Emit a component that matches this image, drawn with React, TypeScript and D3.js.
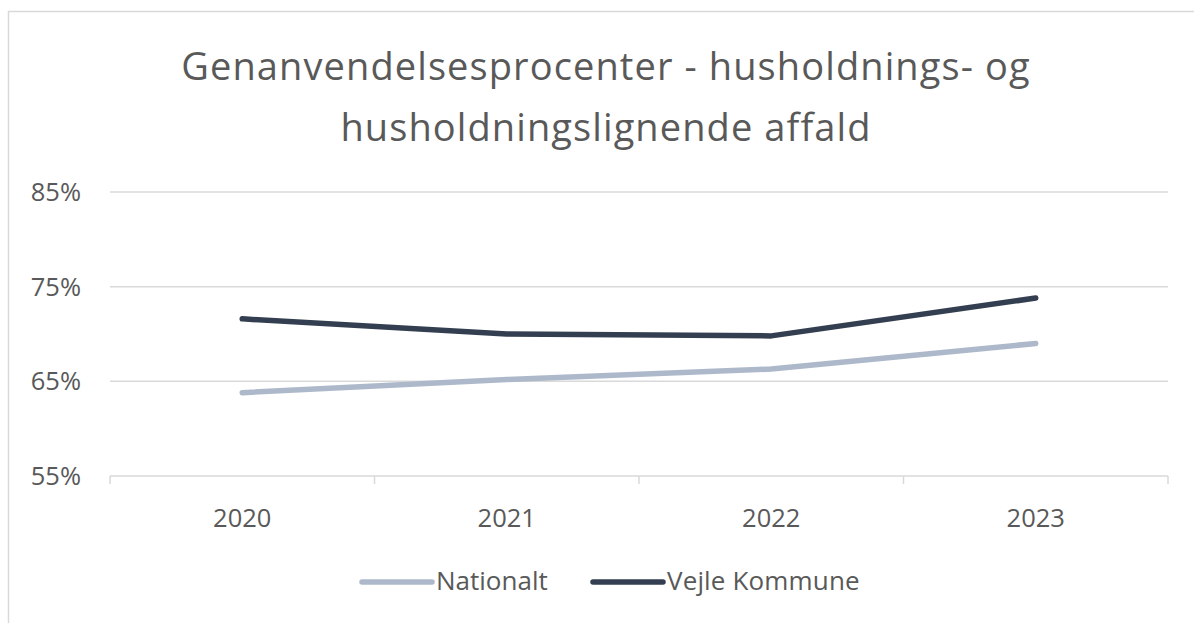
import React from 'react';
import * as d3 from 'd3';

// data
const years = ['2020', '2021', '2022', '2023'];
const nationalt = [63.8, 65.2, 66.3, 69.0];
const vejle = [71.6, 70.0, 69.8, 73.8];
const yTicks = [55, 65, 75, 85];
const seriesNames = ['Nationalt', 'Vejle Kommune'];
const seriesColors = ['#ADB9CA', '#333F50'];

const WIDTH = 1194;
const HEIGHT = 623;
const FONT = '"Open Sans", sans-serif';
const TEXT = '#595959';
const GRID = '#D9D9D9';

export default function App() {
  const x = d3.scaleBand<string>().domain(years).range([110, 1168]);
  const y = d3.scaleLinear().domain([55, 85]).range([476, 192]);

  const line = d3.line<number>()
    .x((_, i) => (x(years[i]) as number) + x.bandwidth() / 2)
    .y((d) => y(d));

  const series = [nationalt, vejle];
  const bounds = [...years.map((yr) => x(yr) as number), 1168];

  return (
    <svg width={WIDTH} height={HEIGHT} style={{ position: 'absolute', left: 0, top: 0 }}>
      <rect x={0} y={0} width={WIDTH} height={HEIGHT} fill="#fff" />
      <rect x={8.5} y={11.5} width={WIDTH + 20} height={HEIGHT + 20} fill="none" stroke={GRID} strokeWidth={1.5} />

      <text x={606} y={80} textAnchor="middle" fontFamily={FONT} fontSize={38} letterSpacing={1.1} fill={TEXT}>
        Genanvendelsesprocenter - husholdnings- og
      </text>
      <text x={606} y={141} textAnchor="middle" fontFamily={FONT} fontSize={38} letterSpacing={1.1} fill={TEXT}>
        husholdningslignende affald
      </text>

      {yTicks.map((t) => (
        <g key={t}>
          <line x1={110} x2={1168} y1={y(t)} y2={y(t)} stroke={GRID} strokeWidth={1.5} />
          <text x={81} y={y(t) + 9} textAnchor="end" fontFamily={FONT} fontSize={25.5} fill={TEXT}>
            {t}%
          </text>
        </g>
      ))}

      {bounds.map((b, i) => (
        <line key={i} x1={b} x2={b} y1={y(55)} y2={y(55) + 8} stroke={GRID} strokeWidth={1.5} />
      ))}

      {years.map((yr) => (
        <text key={yr} x={(x(yr) as number) + x.bandwidth() / 2} y={527} textAnchor="middle"
          fontFamily={FONT} fontSize={25.5} fill={TEXT}>
          {yr}
        </text>
      ))}

      {series.map((s, i) => (
        <path key={i} d={line(s) || ''} fill="none" stroke={seriesColors[i]} strokeWidth={5.5}
          strokeLinecap="round" strokeLinejoin="round" />
      ))}

      {/* legend */}
      <g>
        <line x1={362} x2={432} y1={582} y2={582} stroke={seriesColors[0]} strokeWidth={5.5} strokeLinecap="round" />
        <text x={436} y={590} fontFamily={FONT} fontSize={26} fill={TEXT}>{seriesNames[0]}</text>
        <line x1={593} x2={663} y1={582} y2={582} stroke={seriesColors[1]} strokeWidth={5.5} strokeLinecap="round" />
        <text x={667} y={590} fontFamily={FONT} fontSize={26} letterSpacing={0.15} fill={TEXT}>{seriesNames[1]}</text>
      </g>
    </svg>
  );
}
